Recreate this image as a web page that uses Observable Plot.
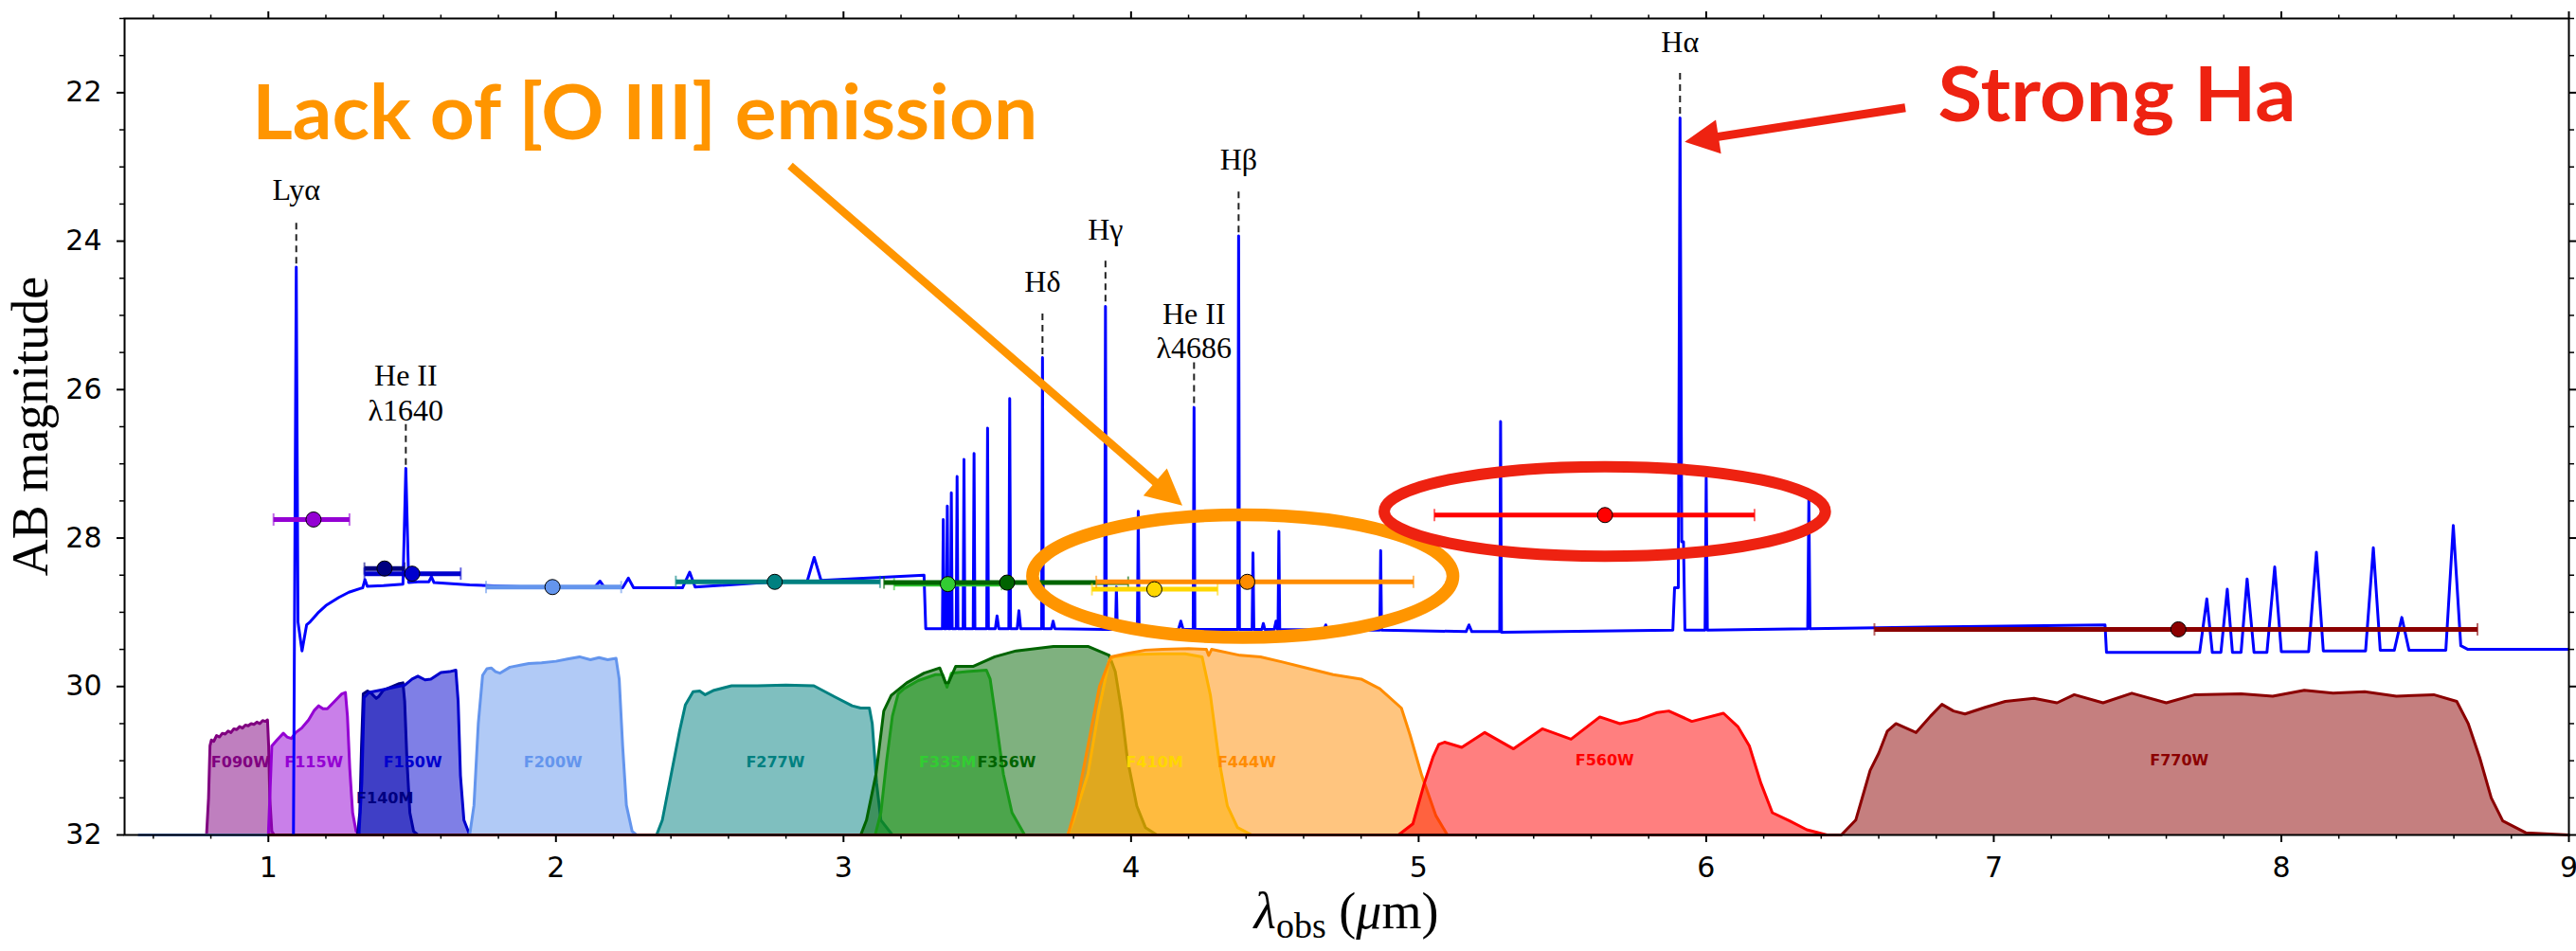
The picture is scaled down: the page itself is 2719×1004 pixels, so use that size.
<!DOCTYPE html>
<html>
<head>
<meta charset="utf-8">
<script src="https://cdn.jsdelivr.net/npm/d3@7"></script>
<script src="https://cdn.jsdelivr.net/npm/@observablehq/plot@0.6"></script>
<style>
  html, body { margin: 0; padding: 0; background: #fff; }
</style>
</head>
<body>
<div id="chart"></div>
<script>
// ---------------- DATA ----------------
// Model spectrum: observed wavelength (µm) and AB magnitude
const specPoints = [
  [1.086, 33.0], [1.097, 24.35], [1.103, 29.13], [1.117, 29.52], [1.133, 29.17], [1.145, 29.13],
  [1.172, 29.01], [1.200, 28.91], [1.245, 28.80], [1.280, 28.73], [1.319, 28.68], [1.328, 28.67],
  [1.336, 28.56], [1.344, 28.65], [1.400, 28.64], [1.468, 28.62], [1.478, 27.06], [1.488, 28.60],
  [1.520, 28.59], [1.558, 28.59], [1.567, 28.52], [1.576, 28.60], [1.700, 28.63], [1.900, 28.66],
  [2.133, 28.67], [2.153, 28.58], [2.170, 28.67], [2.232, 28.67], [2.252, 28.54], [2.270, 28.67],
  [2.440, 28.67], [2.465, 28.46], [2.484, 28.66], [2.759, 28.59], [2.874, 28.58], [2.898, 28.26],
  [2.922, 28.57], [3.280, 28.50], [3.286, 29.22],
  [3.344, 29.22], [3.347, 27.75], [3.350, 29.22],
  [3.358, 29.22], [3.361, 27.57], [3.364, 29.22],
  [3.372, 29.22], [3.375, 27.39], [3.378, 29.22],
  [3.392, 29.22], [3.395, 27.17], [3.398, 29.22],
  [3.416, 29.22], [3.419, 26.94], [3.422, 29.22],
  [3.451, 29.22], [3.454, 26.86], [3.457, 29.22],
  [3.498, 29.22], [3.501, 26.52], [3.504, 29.22],
  [3.528, 29.22], [3.534, 29.05], [3.540, 29.22],
  [3.575, 29.22], [3.578, 26.12], [3.581, 29.22],
  [3.604, 29.22], [3.610, 28.98], [3.616, 29.22],
  [3.689, 29.22], [3.692, 25.57], [3.695, 29.22],
  [3.723, 29.22], [3.729, 29.12], [3.735, 29.22],
  [3.908, 29.23], [3.911, 24.88], [3.914, 29.23],
  [3.946, 29.23], [3.949, 28.66], [3.952, 29.23],
  [4.022, 29.23], [4.025, 27.64], [4.028, 29.23],
  [4.165, 29.23], [4.173, 29.12], [4.181, 29.23],
  [4.216, 29.23], [4.219, 26.24], [4.222, 29.23],
  [4.371, 29.23], [4.374, 23.93], [4.377, 29.23],
  [4.421, 29.23], [4.424, 28.20], [4.427, 29.23],
  [4.455, 29.23], [4.460, 29.15], [4.465, 29.23],
  [4.498, 29.23], [4.504, 29.12], [4.509, 29.23],
  [4.511, 29.23], [4.514, 27.91], [4.517, 29.23],
  [4.670, 29.24], [4.677, 29.17], [4.684, 29.24],
  [4.865, 29.24], [4.868, 28.17], [4.871, 29.24],
  [5.165, 29.26], [5.175, 29.17], [5.185, 29.26],
  [5.282, 29.26], [5.285, 26.43], [5.288, 29.27],
  [5.884, 29.24], [5.890, 28.67], [5.903, 28.67], [5.909, 22.34], [5.915, 28.05], [5.921, 28.05], [5.926, 29.24],
  [5.996, 29.24], [6.000, 27.19], [6.004, 29.24],
  [6.353, 29.22], [6.357, 27.48], [6.361, 29.22],
  [7.387, 29.17], [7.392, 29.54],
  [7.716, 29.54], [7.741, 28.82], [7.760, 29.54],
  [7.790, 29.54], [7.812, 28.69], [7.830, 29.54],
  [7.860, 29.54], [7.881, 28.55], [7.905, 29.54],
  [7.950, 29.54], [7.977, 28.39], [8.000, 29.53],
  [8.095, 29.53], [8.122, 28.19], [8.146, 29.52],
  [8.293, 29.52], [8.320, 28.13], [8.344, 29.51],
  [8.393, 29.51], [8.419, 29.07], [8.444, 29.51],
  [8.572, 29.51], [8.598, 27.83], [8.624, 29.45], [8.649, 29.50],
  [9.000, 29.50]
];

// Filter transmission curves (drawn in magnitude units of the plot)
const f090w = [[0.785,32],[0.792,31.5],[0.797,30.8],[0.802,30.72],[0.81,30.74],[0.82,30.66],[0.83,30.68],[0.84,30.63],[0.85,30.64],[0.86,30.6],[0.87,30.62],[0.88,30.57],[0.89,30.58],[0.90,30.54],[0.91,30.56],[0.92,30.52],[0.93,30.53],[0.94,30.5],[0.95,30.51],[0.96,30.48],[0.97,30.5],[0.98,30.46],[0.99,30.47],[0.997,30.45],[1.001,30.8],[1.005,31.5],[1.012,31.95],[1.02,32]];
const f115w = [[1.0,32],[1.006,31.4],[1.012,30.8],[1.03,30.72],[1.052,30.63],[1.065,30.68],[1.08,30.7],[1.095,30.62],[1.116,30.56],[1.14,30.45],[1.16,30.32],[1.175,30.26],[1.19,30.3],[1.205,30.3],[1.23,30.2],[1.255,30.1],[1.268,30.08],[1.275,30.4],[1.283,31.1],[1.293,31.7],[1.305,31.95],[1.32,32]];
const f140m = [[1.31,32],[1.318,31.7],[1.324,30.8],[1.33,30.1],[1.345,30.06],[1.36,30.1],[1.375,30.16],[1.385,30.13],[1.40,30.05],[1.43,30.0],[1.455,29.96],[1.468,29.95],[1.474,30.2],[1.482,31.0],[1.492,31.7],[1.505,31.95],[1.52,32]];
const f150w = [[1.315,32],[1.325,31.3],[1.333,30.15],[1.35,30.08],[1.40,30.04],[1.45,30.0],[1.475,29.98],[1.50,29.9],[1.52,29.86],[1.545,29.91],[1.565,29.9],[1.60,29.81],[1.63,29.8],[1.652,29.78],[1.66,30.2],[1.668,31.2],[1.68,31.8],[1.70,32]];
const f200w = [[0.55,32],[1.70,32],[1.715,31.6],[1.73,30.5],[1.745,29.85],[1.76,29.76],[1.775,29.75],[1.79,29.8],[1.805,29.82],[1.84,29.74],[1.88,29.71],[1.906,29.69],[1.95,29.68],[2.0,29.66],[2.04,29.63],[2.082,29.6],[2.12,29.64],[2.15,29.61],[2.18,29.64],[2.209,29.62],[2.22,29.9],[2.232,30.8],[2.245,31.6],[2.265,31.95],[2.28,32]];
const f277w = [[2.35,32],[2.37,31.8],[2.40,31.2],[2.43,30.6],[2.45,30.25],[2.477,30.07],[2.50,30.06],[2.519,30.11],[2.55,30.05],[2.611,29.99],[2.70,29.99],[2.80,29.98],[2.897,29.99],[2.97,30.14],[3.03,30.26],[3.06,30.29],[3.09,30.29],[3.10,30.5],[3.115,31.3],[3.13,31.8],[3.17,32]];
const f335m = [[3.11,32],[3.13,31.7],[3.15,31.0],[3.17,30.4],[3.19,30.1],[3.21,30.03],[3.26,29.92],[3.32,29.84],[3.345,29.84],[3.36,30.01],[3.375,29.82],[3.43,29.8],[3.497,29.78],[3.51,29.9],[3.526,30.33],[3.556,31.18],[3.586,31.7],[3.63,32]];
const f356w = [[3.06,32],[3.08,31.8],[3.113,31.18],[3.14,30.33],[3.166,30.12],[3.22,29.95],[3.28,29.82],[3.335,29.75],[3.355,29.95],[3.365,29.95],[3.39,29.73],[3.45,29.73],[3.526,29.6],[3.60,29.52],[3.73,29.46],[3.85,29.46],[3.924,29.58],[3.945,29.8],[3.967,30.33],[3.987,30.97],[4.02,31.61],[4.05,31.9],[4.09,32]];
const f410m = [[3.78,32],[3.80,31.8],[3.85,31.18],[3.887,30.33],[3.924,29.65],[3.94,29.6],[4.0,29.57],[4.10,29.56],[4.188,29.56],[4.247,29.6],[4.276,30.12],[4.305,30.97],[4.335,31.61],[4.37,31.9],[4.42,32]];
const f444w = [[3.78,32],[3.81,31.6],[3.85,30.8],[3.89,30.0],[3.93,29.6],[3.98,29.56],[4.05,29.51],[4.11,29.50],[4.20,29.49],[4.262,29.50],[4.27,29.58],[4.28,29.5],[4.379,29.58],[4.45,29.6],[4.526,29.67],[4.62,29.76],[4.703,29.84],[4.80,29.9],[4.865,30.03],[4.94,30.29],[4.97,30.65],[5.011,31.2],[5.06,31.74],[5.10,32]];
const f560w = [[4.93,32],[4.98,31.85],[5.02,31.3],[5.05,30.95],[5.07,30.78],[5.09,30.75],[5.15,30.82],[5.23,30.62],[5.33,30.84],[5.43,30.57],[5.53,30.71],[5.63,30.41],[5.70,30.5],[5.76,30.45],[5.83,30.35],[5.87,30.33],[5.95,30.47],[6.06,30.36],[6.11,30.54],[6.15,30.8],[6.19,31.3],[6.23,31.7],[6.29,31.81],[6.35,31.93],[6.42,32]];
const f770w = [[1.0,32],[6.47,32],[6.52,31.8],[6.55,31.4],[6.57,31.13],[6.60,30.9],[6.63,30.6],[6.66,30.5],[6.73,30.62],[6.78,30.4],[6.82,30.24],[6.86,30.33],[6.90,30.37],[6.97,30.28],[7.04,30.2],[7.14,30.16],[7.22,30.22],[7.28,30.11],[7.38,30.22],[7.48,30.09],[7.60,30.22],[7.70,30.11],[7.86,30.1],[7.97,30.13],[8.08,30.05],[8.18,30.09],[8.29,30.07],[8.40,30.13],[8.53,30.11],[8.61,30.2],[8.65,30.5],[8.69,30.96],[8.73,31.5],[8.77,31.81],[8.85,31.97],[9.0,32]];

const filterNames  = ["F090W", "F115W", "F140M", "F150W", "F200W", "F277W", "F335M", "F356W", "F410M", "F444W", "F560W", "F770W"];
const filterColors = ["#800080", "#9400D3", "#000080", "#0000CD", "#6495ED", "#008080", "#32CD32", "#006400", "#FFD700", "#FF8C00", "#FF0000", "#8B0000"];
const filterCurves = [f090w, f115w, f140m, f150w, f200w, f277w, f335m, f356w, f410m, f444w, f560w, f770w];
const filterLabelX = [0.903, 1.158, 1.405, 1.502, 1.99, 2.763, 3.362, 3.567, 4.082, 4.402, 5.647, 7.645];
const filterLabelY = [31.02, 31.02, 31.51, 31.02, 31.02, 31.02, 31.02, 31.02, 31.02, 31.02, 31.0, 31.0];

// Photometry (filter, centre, lower, upper wavelength, AB mag)
const photFilters = ["F115W", "F140M", "F150W", "F200W", "F277W", "F335M", "F356W", "F410M", "F444W", "F560W", "F770W"];
const photColors  = ["#9400D3", "#000080", "#0000CD", "#6495ED", "#008080", "#32CD32", "#006400", "#FFD700", "#FF8C00", "#FF0000", "#8B0000"];
const photWave    = [1.157, 1.404, 1.500, 1.988, 2.761, 3.363, 3.569, 4.081, 4.404, 5.648, 7.642];
const photLo      = [1.018, 1.334, 1.334, 1.757, 2.417, 3.176, 3.141, 3.864, 3.879, 5.055, 6.585];
const photHi      = [1.282, 1.474, 1.669, 2.227, 3.127, 3.550, 3.990, 4.301, 4.982, 6.168, 8.682];
const photMag     = [27.75, 28.41, 28.48, 28.66, 28.59, 28.62, 28.60, 28.69, 28.59, 27.69, 29.23];

// Emission-line labels
const lineNames   = ["Lyα", "He II\nλ1640", "Hδ", "Hγ", "He II\nλ4686", "Hβ", "Hα"];
const lineWave    = [1.097, 1.478, 3.692, 3.911, 4.219, 4.374, 5.909];
const linePeak    = [24.35, 27.06, 25.57, 24.88, 26.24, 23.93, 22.34];
const lineDashTop = [23.76, 26.47, 24.98, 24.27, 25.64, 23.34, 21.74];
const lineLabelY  = [23.45, 26.42, 24.68, 23.98, 25.58, 23.03, 21.45];

// Axis ticks
const xMajorTicks = [1, 2, 3, 4, 5, 6, 7, 8, 9];
const xMinorTicks = [0.6,0.8,1.2,1.4,1.6,1.8,2.2,2.4,2.6,2.8,3.2,3.4,3.6,3.8,4.2,4.4,4.6,4.8,5.2,5.4,5.6,5.8,6.2,6.4,6.6,6.8,7.2,7.4,7.6,7.8,8.2,8.4,8.6,8.8];
const yMajorTicks = [22, 24, 26, 28, 30, 32];
const yMinorTicks = [21,21.5,22.5,23,23.5,24.5,25,25.5,26.5,27,27.5,28.5,29,29.5,30.5,31,31.5];

// Annotations
const annoTexts  = ["Lack of [O III] emission", "Strong Ha"];
const annoColors = ["#FF9500", "#EE2211"];
const annoX      = [0.944, 6.806];
const annoY      = [22.63, 22.38];
const annoWidth  = [829, 378];
// arrows: [x1, y1, x2 (tip), y2 (tip)]
const arrowOrange = [2.816, 22.99, 4.180, 27.57];
const arrowRed    = [6.694, 22.21, 5.927, 22.67];
// ellipses: [cx, cy, rx, ry]
const ellipseOrange = [4.39, 28.52, 0.731, 0.826];
const ellipseRed    = [5.649, 27.647, 0.767, 0.603];

// ---------------- HELPERS ----------------
const specData = specPoints.map(([w, m]) => ({w, m}));
const photData = photFilters.map((f, i) => ({f, c: photColors[i], w: photWave[i], lo: photLo[i], hi: photHi[i], m: photMag[i]}));
const lineData = lineNames.map((t, i) => ({t, w: lineWave[i], p: linePeak[i], d: lineDashTop[i], ly: lineLabelY[i]}));

const vbar = { draw(ctx, size) { const r = Math.sqrt(size / Math.PI); ctx.moveTo(0, -r); ctx.lineTo(0, r); } };

function ellipseMark([cx, cy, rx, ry], color, sw) {
  return (index, {x, y}) => {
    const g = d3.create("svg:g");
    g.append("ellipse")
      .attr("cx", x(cx)).attr("cy", y(cy))
      .attr("rx", Math.abs(x(cx + rx) - x(cx))).attr("ry", Math.abs(y(cy + ry) - y(cy)))
      .attr("fill", "none").attr("stroke", color).attr("stroke-width", sw);
    return g.node();
  };
}

function arrowMark([x1v, y1v, x2v, y2v], color, sw, headLen, headW) {
  return (index, {x, y}) => {
    const X1 = x(x1v), Y1 = y(y1v), X2 = x(x2v), Y2 = y(y2v);
    const dx = X2 - X1, dy = Y2 - Y1, L = Math.hypot(dx, dy), ux = dx / L, uy = dy / L;
    const bx = X2 - ux * headLen, by = Y2 - uy * headLen;
    const g = d3.create("svg:g");
    g.append("line").attr("x1", X1).attr("y1", Y1).attr("x2", bx + ux * 2).attr("y2", by + uy * 2)
      .attr("stroke", color).attr("stroke-width", sw).attr("stroke-linecap", "butt");
    g.append("polygon")
      .attr("points", `${X2},${Y2} ${bx - uy * headW / 2},${by + ux * headW / 2} ${bx + uy * headW / 2},${by - ux * headW / 2}`)
      .attr("fill", color);
    return g.node();
  };
}

function axisLabels(index, scales, values, dims) {
  const g = d3.create("svg:g").attr("font-family", "'Liberation Serif', 'DejaVu Serif', serif").attr("fill", "black");
  const cx = (dims.marginLeft + dims.width - dims.marginRight) / 2;
  const cy = (dims.marginTop + dims.height - dims.marginBottom) / 2;
  const t = g.append("text").attr("x", cx).attr("y", 980).attr("text-anchor", "middle").attr("font-size", 54);
  t.append("tspan").attr("font-style", "italic").text("λ");
  t.append("tspan").attr("font-size", 38).attr("dy", 10).text("obs");
  t.append("tspan").attr("dy", -10).text(" (");
  t.append("tspan").attr("font-style", "italic").text("μ");
  t.append("tspan").text("m)");
  g.append("text").attr("transform", `translate(50,${cy}) rotate(-90)`).attr("text-anchor", "middle")
    .attr("font-size", 54).text("AB magnitude");
  return g.node();
}

// ---------------- MARKS ----------------
const marks = [];

filterCurves.forEach((curve, i) => {
  marks.push(Plot.areaY(curve, {x: d => d[0], y1: 32, y2: d => d[1], fill: filterColors[i], fillOpacity: 0.5}));
  marks.push(Plot.line(curve, {x: d => d[0], y: d => d[1], stroke: filterColors[i], strokeWidth: 3}));
});

marks.push(Plot.text(filterNames, {
  x: (d, i) => filterLabelX[i], y: (d, i) => filterLabelY[i], text: d => d,
  fill: (d, i) => filterColors[i], fontFamily: "DejaVu Sans", fontWeight: "bold", fontSize: 16,
  textAnchor: "middle", lineAnchor: "middle"
}));

marks.push(Plot.line(specData, {x: "w", y: "m", stroke: "#0000FF", strokeWidth: 3, clip: true}));

marks.push(Plot.ruleX(lineData, {x: "w", y1: "d", y2: "p", stroke: "#222", strokeWidth: 2, strokeDasharray: "7,5"}));
marks.push(Plot.text(lineData, {
  x: "w", y: "ly", text: "t", lineAnchor: "bottom", lineHeight: 1.15, textAnchor: "middle",
  fontFamily: "Liberation Serif", fontSize: 32, fill: "black"
}));

photData.forEach(d => {
  marks.push(Plot.link([d], {x1: "lo", x2: "hi", y1: "m", y2: "m", stroke: d.c, strokeWidth: 5}));
  marks.push(Plot.dot([d, d], {x: (p, i) => i ? p.hi : p.lo, y: "m", symbol: vbar, r: 6.5, stroke: d.c, strokeWidth: 2, strokeOpacity: 0.6}));
});
photData.forEach(d => {
  marks.push(Plot.dot([d], {x: "w", y: "m", r: 8, fill: d.c, stroke: "black", strokeWidth: 1}));
});

marks.push(ellipseMark(ellipseOrange, annoColors[0], 13.5));
marks.push(ellipseMark(ellipseRed, annoColors[1], 12));
marks.push(arrowMark(arrowOrange, annoColors[0], 8.5, 38, 38));
marks.push(arrowMark(arrowRed, annoColors[1], 9, 36, 36));

marks.push(Plot.text(annoTexts, {
  x: (d, i) => annoX[i], y: (d, i) => annoY[i], text: d => d,
  fill: (d, i) => annoColors[i], fontFamily: "Lato", fontWeight: "bold", fontSize: 80,
  textAnchor: "start", lineAnchor: "bottom"
}));

// axes
marks.push(Plot.axisX({anchor: "bottom", ticks: xMinorTicks, tickSize: 4.5, strokeWidth: 1.5, tickFormat: () => "", label: null}));
marks.push(Plot.axisX({anchor: "top", ticks: xMinorTicks, tickSize: 4.5, strokeWidth: 1.5, tickFormat: () => "", label: null}));
marks.push(Plot.axisX({anchor: "bottom", ticks: xMajorTicks, tickSize: 8, tickPadding: 15, strokeWidth: 2, fontSize: 30, label: null}));
marks.push(Plot.axisX({anchor: "top", ticks: xMajorTicks, tickSize: 8, strokeWidth: 2, tickFormat: () => "", label: null}));
marks.push(Plot.axisY({anchor: "left", ticks: yMinorTicks, tickSize: 5, strokeWidth: 1.5, tickFormat: () => "", label: null}));
marks.push(Plot.axisY({anchor: "right", ticks: yMinorTicks, tickSize: 5, strokeWidth: 1.5, tickFormat: () => "", label: null}));
marks.push(Plot.axisY({anchor: "left", ticks: yMajorTicks, tickSize: 8, tickPadding: 16, strokeWidth: 2, fontSize: 30, label: null}));
marks.push(Plot.axisY({anchor: "right", ticks: yMajorTicks, tickSize: 8, strokeWidth: 2, tickFormat: () => "", label: null}));
marks.push(Plot.frame({stroke: "black", strokeWidth: 2}));
marks.push(axisLabels);

const chart = Plot.plot({
  width: 2719,
  height: 1004,
  marginLeft: 131,
  marginRight: 8,
  marginTop: 19,
  marginBottom: 123,
  x: {domain: [0.5, 9]},
  y: {domain: [32, 21]},
  style: {fontFamily: "'DejaVu Sans', sans-serif", fontSize: "30px", background: "white", color: "black"},
  marks
});
document.getElementById("chart").append(chart);

// stretch the annotation captions to the widths they have in the original figure
d3.select(chart).selectAll("text").each(function () {
  const k = annoTexts.indexOf(this.textContent);
  if (k >= 0) d3.select(this).attr("textLength", annoWidth[k]).attr("lengthAdjust", "spacingAndGlyphs");
});
</script>
</body>
</html>
